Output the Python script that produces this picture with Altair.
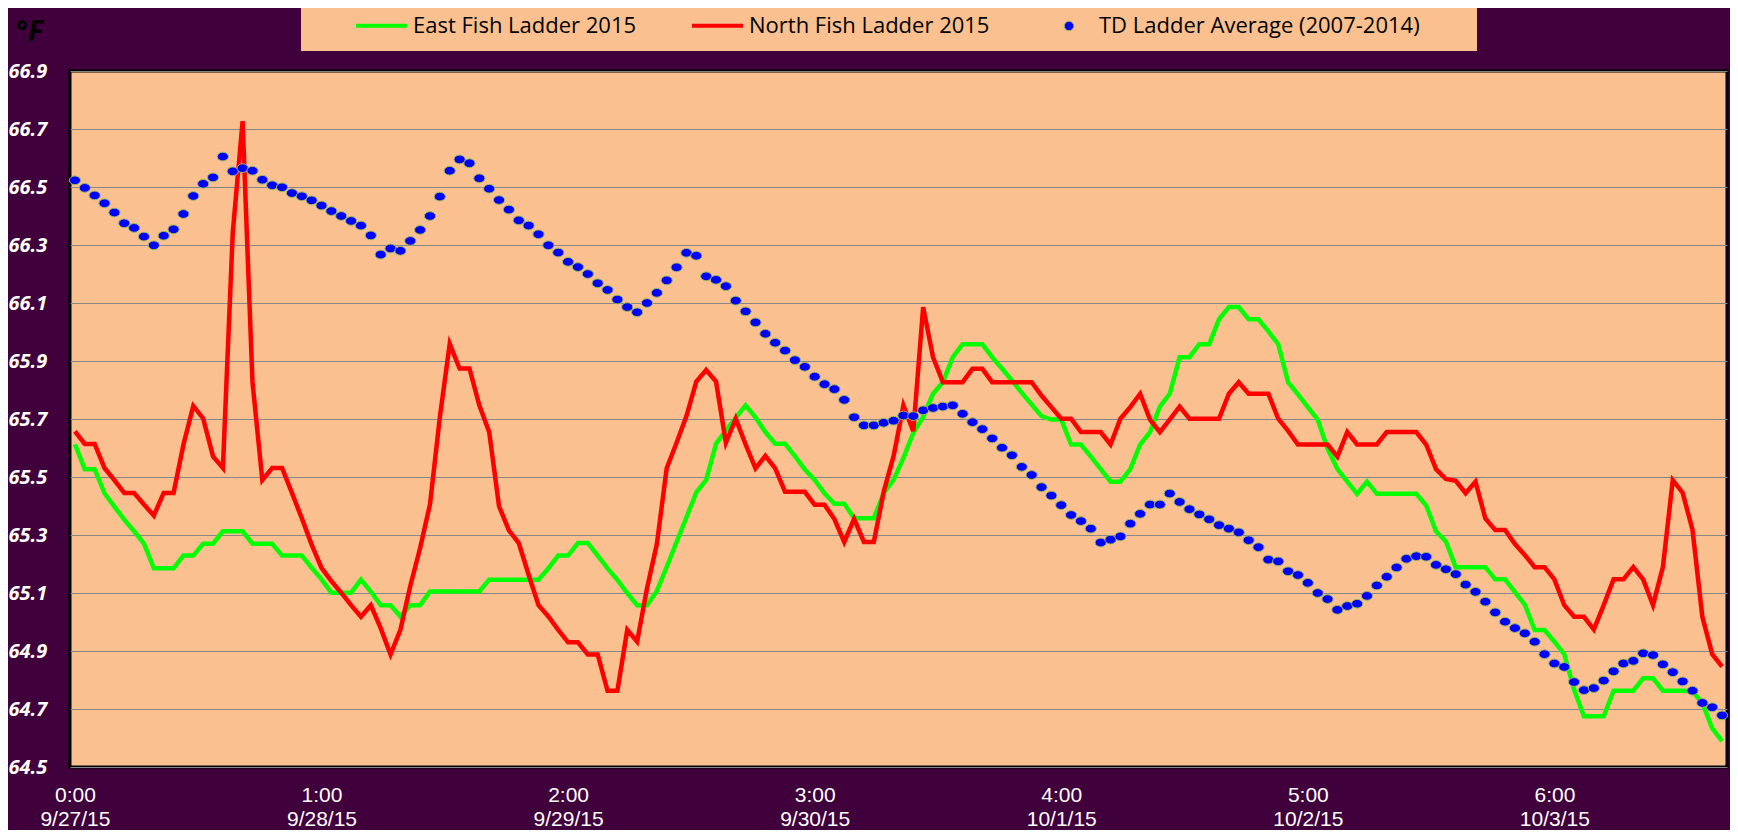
import json
import pandas as pd
import altair as alt

# ---------------- data (hourly, 168 hours from 9/27/15 0:00) ----------------
hours = list(range(168))

east = [65.613, 65.527, 65.527, 65.444, 65.398, 65.353, 65.313, 65.270, 65.185, 65.185,
        65.185, 65.229, 65.229, 65.270, 65.270, 65.313, 65.313, 65.313, 65.270, 65.270,
        65.270, 65.229, 65.229, 65.229, 65.187, 65.147, 65.101, 65.101, 65.101, 65.146,
        65.105, 65.058, 65.058, 65.019, 65.058, 65.058, 65.105, 65.105, 65.105, 65.105,
        65.105, 65.105, 65.146, 65.146, 65.146, 65.146, 65.146, 65.146, 65.185, 65.229,
        65.229, 65.272, 65.272, 65.229, 65.185, 65.145, 65.099, 65.058, 65.058, 65.107,
        65.190, 65.276, 65.361, 65.447, 65.490, 65.615, 65.661, 65.704, 65.747, 65.706,
        65.655, 65.615, 65.615, 65.572, 65.526, 65.490, 65.444, 65.408, 65.408, 65.358,
        65.358, 65.358, 65.444, 65.490, 65.566, 65.652, 65.707, 65.787, 65.827, 65.913,
        65.958, 65.958, 65.958, 65.913, 65.873, 65.833, 65.790, 65.750, 65.710, 65.698,
        65.698, 65.612, 65.612, 65.570, 65.527, 65.484, 65.484, 65.527, 65.612, 65.655,
        65.743, 65.787, 65.913, 65.913, 65.958, 65.958, 66.044, 66.086, 66.086, 66.044,
        66.044, 66.002, 65.958, 65.827, 65.785, 65.741, 65.698, 65.598, 65.527, 65.484,
        65.442, 65.484, 65.442, 65.442, 65.442, 65.442, 65.442, 65.402, 65.313, 65.278,
        65.189, 65.189, 65.189, 65.189, 65.147, 65.147, 65.103, 65.060, 64.972, 64.972,
        64.932, 64.889, 64.766, 64.675, 64.675, 64.675, 64.763, 64.763, 64.763, 64.806,
        64.806, 64.763, 64.763, 64.763, 64.761, 64.721, 64.633, 64.589]

north = [65.657, 65.614, 65.614, 65.531, 65.489, 65.445, 65.445, 65.405, 65.367, 65.445,
         65.445, 65.611, 65.745, 65.702, 65.571, 65.531, 66.342, 66.727, 65.828, 65.489,
         65.531, 65.531, 65.445, 65.358, 65.267, 65.187, 65.141, 65.101, 65.058, 65.018,
         65.058, 64.979, 64.888, 64.973, 65.124, 65.255, 65.406, 65.707, 65.959, 65.874,
         65.874, 65.747, 65.655, 65.399, 65.316, 65.272, 65.163, 65.058, 65.019, 64.973,
         64.930, 64.930, 64.888, 64.888, 64.763, 64.763, 64.973, 64.932, 65.116, 65.269,
         65.530, 65.618, 65.710, 65.829, 65.869, 65.829, 65.618, 65.701, 65.612, 65.530,
         65.573, 65.530, 65.449, 65.449, 65.449, 65.404, 65.404, 65.355, 65.276, 65.355,
         65.276, 65.276, 65.449, 65.572, 65.747, 65.658, 66.086, 65.913, 65.827, 65.827,
         65.827, 65.873, 65.873, 65.827, 65.827, 65.827, 65.827, 65.827, 65.781, 65.741,
         65.701, 65.701, 65.655, 65.655, 65.655, 65.612, 65.701, 65.741, 65.787, 65.698,
         65.655, 65.698, 65.743, 65.701, 65.701, 65.701, 65.701, 65.787, 65.827, 65.787,
         65.787, 65.787, 65.701, 65.659, 65.612, 65.612, 65.612, 65.612, 65.570, 65.655,
         65.612, 65.612, 65.612, 65.655, 65.655, 65.655, 65.655, 65.612, 65.527, 65.493,
         65.487, 65.444, 65.484, 65.357, 65.317, 65.317, 65.269, 65.231, 65.189, 65.189,
         65.147, 65.058, 65.018, 65.018, 64.974, 65.058, 65.147, 65.147, 65.189, 65.147,
         65.058, 65.189, 65.489, 65.446, 65.318, 65.018, 64.889, 64.846]

td_avg = [66.523, 66.497, 66.471, 66.444, 66.412, 66.375, 66.359, 66.329, 66.299, 66.332,
          66.354, 66.407, 66.469, 66.511, 66.533, 66.605, 66.554, 66.565, 66.556, 66.525,
          66.506, 66.499, 66.479, 66.468, 66.454, 66.436, 66.417, 66.400, 66.383, 66.367,
          66.333, 66.267, 66.288, 66.280, 66.314, 66.352, 66.400, 66.467, 66.556, 66.595,
          66.582, 66.530, 66.494, 66.455, 66.422, 66.385, 66.367, 66.337, 66.299, 66.274,
          66.242, 66.224, 66.200, 66.168, 66.145, 66.112, 66.086, 66.068, 66.100, 66.135,
          66.178, 66.223, 66.273, 66.263, 66.192, 66.180, 66.158, 66.108, 66.071, 66.033,
          65.994, 65.963, 65.936, 65.903, 65.880, 65.846, 65.820, 65.803, 65.766, 65.706,
          65.678, 65.678, 65.687, 65.694, 65.712, 65.710, 65.730, 65.738, 65.743, 65.747,
          65.718, 65.689, 65.665, 65.633, 65.601, 65.575, 65.535, 65.507, 65.465, 65.436,
          65.403, 65.369, 65.348, 65.322, 65.274, 65.284, 65.295, 65.339, 65.373, 65.405,
          65.405, 65.443, 65.414, 65.389, 65.371, 65.354, 65.334, 65.322, 65.309, 65.282,
          65.258, 65.215, 65.209, 65.175, 65.162, 65.135, 65.100, 65.079, 65.042, 65.055,
          65.063, 65.090, 65.126, 65.156, 65.188, 65.218, 65.227, 65.225, 65.197, 65.182,
          65.165, 65.129, 65.104, 65.070, 65.033, 65.001, 64.979, 64.961, 64.932, 64.889,
          64.857, 64.845, 64.793, 64.765, 64.772, 64.798, 64.830, 64.857, 64.866, 64.892,
          64.886, 64.854, 64.827, 64.795, 64.763, 64.721, 64.706, 64.678]

series_names = ["East Fish Ladder 2015", "North Fish Ladder 2015", "TD Ladder Average (2007-2014)"]
tick_pos = [0, 25, 50, 75, 100, 125, 150]
tick_time = ["0:00", "1:00", "2:00", "3:00", "4:00", "5:00", "6:00"]
tick_date = ["9/27/15", "9/28/15", "9/29/15", "9/30/15", "10/1/15", "10/2/15", "10/3/15"]
y_ticks = [64.5, 64.7, 64.9, 65.1, 65.3, 65.5, 65.7, 65.9, 66.1, 66.3, 66.5, 66.7, 66.9]

# ---------------- tables ----------------
lines_df = pd.DataFrame({
    "hour": hours + hours,
    "series": [series_names[0]] * len(east) + [series_names[1]] * len(north),
    "temp": east + north,
})
td_df = pd.DataFrame({"hour": hours, "series": [series_names[2]] * len(td_avg), "temp": td_avg})

# ---------------- style ----------------
BG = "#3F003B"
PEACH = "#FAC090"
FONT = "Open Sans"
XFONT = "Liberation Sans"
# slightly flattened round marker (polygon, no arcs)
ELLIPSE = ("M1,0 L0.924,0.299 L0.707,0.551 L0.383,0.721 L0,0.78 L-0.383,0.721 L-0.707,0.551 "
           "L-0.924,0.299 L-1,0 L-0.924,-0.299 L-0.707,-0.551 L-0.383,-0.721 L0,-0.78 "
           "L0.383,-0.721 L0.707,-0.551 L0.924,-0.299 Z")

x_scale = alt.Scale(domain=[-0.5, 167.5], nice=False, zero=False)
y_scale = alt.Scale(domain=[64.5, 66.9], nice=False, zero=False)

pos_js = json.dumps(tick_pos)
label_expr = ("[" + json.dumps(tick_time) + "[indexof(" + pos_js + ", datum.value)], "
              + json.dumps(tick_date) + "[indexof(" + pos_js + ", datum.value)]]")

x_axis = alt.Axis(values=tick_pos, labelExpr=label_expr, grid=False, ticks=False, domain=False,
                  labelColor="white", labelFont=XFONT, labelFontSize=21, labelPadding=17,
                  labelLineHeight=24, labelBaseline="top", labelAlign="center",
                  labelFlush=False, labelOverlap=False, title=None)

y_axis = alt.Axis(values=y_ticks, format=".1f", grid=True, gridColor="#878787", gridWidth=1.2,
                  ticks=False, domain=False, labelColor="white", labelFont=FONT,
                  labelFontSize=20, labelFontWeight="bold", labelFontStyle="italic",
                  labelAlign="left", labelBaseline="middle", labelPadding=62,
                  labelFlush=False, labelOverlap=False,
                  title="°F", titleAngle=0, titleX=-41, titleY=-39, titleAlign="center",
                  titleBaseline="middle", titleFont=FONT, titleFontSize=28,
                  titleFontWeight="bold", titleFontStyle="italic", titleColor="black")

legend_lines = alt.Legend(orient="none", legendX=231, legendY=-87, direction="horizontal",
                          fillColor=PEACH, padding=14, title=" ", titleOrient="right",
                          titleFontSize=1, titlePadding=48, symbolType="stroke",
                          symbolSize=2601, symbolStrokeWidth=4, symbolOffset=39,
                          labelFont=FONT, labelFontSize=22, labelColor="black",
                          labelOffset=4, columnPadding=14, labelLimit=700)

legend_td = alt.Legend(orient="none", legendX=974, legendY=-70, direction="horizontal",
                       fillColor=PEACH, padding=14, title=" ", titleOrient="right",
                       titleFontSize=1, titlePadding=43, symbolType="circle",
                       symbolSize=90, symbolStrokeColor="#9BBB59", symbolStrokeWidth=1,
                       symbolOffset=0, labelFont=FONT, labelFontSize=22, labelColor="black",
                       labelOffset=19, labelLimit=700)

lines = alt.Chart(lines_df).mark_line(strokeWidth=4.5).encode(
    x=alt.X("hour:Q", scale=x_scale, axis=x_axis),
    y=alt.Y("temp:Q", scale=y_scale, axis=y_axis),
    color=alt.Color("series:N", scale=alt.Scale(domain=series_names[:2], range=["#00FF00", "#FF0000"]),
                    legend=legend_lines),
)

points = alt.Chart(td_df).mark_point(filled=True, shape=ELLIPSE, size=125, stroke="#9BBB59",
                                      strokeWidth=1, opacity=1).encode(
    x=alt.X("hour:Q", scale=x_scale),
    y=alt.Y("temp:Q", scale=y_scale),
    fill=alt.Fill("series:N", scale=alt.Scale(domain=series_names[2:], range=["#0000FF"]),
                  legend=legend_td),
)

chart = alt.layer(lines, points).properties(
    width=1657, height=696, background=BG,
    padding={"left": 62, "top": 63, "right": 3, "bottom": 63},
    autosize=alt.AutoSizeParams(type="none"),
).configure_view(fill=PEACH, stroke="#000000", strokeWidth=3)

chart.save("out.html", embed_options={"renderer": "svg", "actions": False})
